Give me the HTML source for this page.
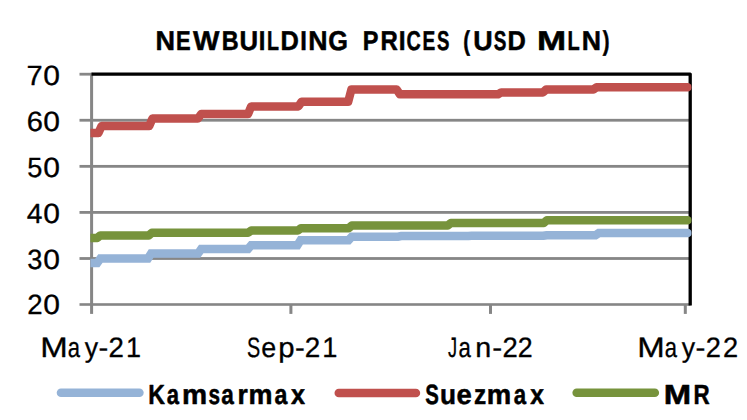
<!DOCTYPE html>
<html><head><meta charset="utf-8"><title>Newbuilding Prices</title>
<style>html,body{margin:0;padding:0;background:#fff;}body{width:747px;height:420px;position:relative;overflow:hidden;font-family:"Liberation Sans",sans-serif;}</style></head>
<body>
<svg width="747" height="420" viewBox="0 0 747 420" style="position:absolute;left:0;top:0">
<defs><clipPath id="c"><rect x="90.4" y="60" width="601.2" height="260"/></clipPath></defs>
<rect width="747" height="420" fill="#fff"/>
<rect x="79.5" y="118.85" width="610" height="2.8" fill="#868686"/>
<rect x="79.5" y="164.95" width="610" height="2.8" fill="#868686"/>
<rect x="79.5" y="211.00" width="610" height="2.8" fill="#868686"/>
<rect x="79.5" y="257.10" width="610" height="2.8" fill="#868686"/>
<rect x="79.5" y="72.8" width="13" height="2.8" fill="#868686"/>
<rect x="90.1" y="72.9" width="3" height="241" fill="#868686"/>
<rect x="79.5" y="303.2" width="611" height="2.6" fill="#868686"/>
<rect x="289.4" y="304" width="3" height="9.9" fill="#868686"/>
<rect x="489.0" y="304" width="3" height="9.9" fill="#868686"/>
<rect x="683.8" y="304" width="3" height="9.9" fill="#868686"/>
<path d="M91.5 74.05 H690.2 V305.6" fill="none" stroke="#000" stroke-width="3.3" stroke-linejoin="round"/>
<g clip-path="url(#c)" fill="none" stroke-width="8.5" stroke-linecap="round" stroke-linejoin="round">
<polyline points="86.0,263.1 97.2,263.1 100.4,258.6 147.9,258.6 151.1,253.6 198.0,253.6 201.2,249.1 248.0,249.1 251.2,245.3 297.4,245.3 300.6,240.2 348.6,240.2 351.8,236.7 398.0,236.7 401.2,236.1 468.4,236.1 471.6,235.8 543.4,235.8 546.6,235.2 595.5,235.2 598.7,233.1 687.6,233.1" stroke="#95B3D7" stroke-linejoin="miter"/>
<polyline points="86.0,133.1 98.4,133.1 101.6,126.0 149.2,126.0 152.4,118.6 197.9,118.6 201.1,114.1 248.0,114.1 251.2,106.4 298.4,106.4 301.6,101.8 348.2,101.8 351.4,89.5 396.7,89.5 399.9,94.3 498.0,94.3 501.2,92.4 543.0,92.4 546.2,89.5 593.4,89.5 596.6,87.2 687.6,87.2" stroke="#C0504D"/>
<polyline points="86.0,237.9 97.2,237.9 100.4,235.4 148.7,235.4 151.9,232.7 248.0,232.7 251.2,230.6 297.7,230.6 300.9,228.3 348.6,228.3 351.8,225.6 447.7,225.6 450.9,222.9 543.7,222.9 546.9,220.2 687.6,220.2" stroke="#77933C"/>
</g>
<g fill="none" stroke-width="8.6" stroke-linecap="round">
<line x1="61" y1="392.8" x2="139.4" y2="392.8" stroke="#95B3D7"/>
<line x1="338.8" y1="393" x2="415.9" y2="393" stroke="#C0504D"/>
<line x1="576.7" y1="392.8" x2="654.8" y2="392.8" stroke="#77933C"/>
</g>
<g font-family="Liberation Sans, sans-serif" fill="#000" style="text-rendering:geometricPrecision">
<text y="50.4" font-size="27.2" font-weight="bold" stroke="#000" stroke-width="0.5" stroke-linejoin="round"><tspan x="155.38" textLength="19.55" lengthAdjust="spacingAndGlyphs">N</tspan><tspan x="176.04" textLength="14.63" lengthAdjust="spacingAndGlyphs">E</tspan><tspan x="193.05" textLength="26.45" lengthAdjust="spacingAndGlyphs">W</tspan><tspan x="221.84" textLength="16.90" lengthAdjust="spacingAndGlyphs">B</tspan><tspan x="239.61" textLength="18.59" lengthAdjust="spacingAndGlyphs">U</tspan><tspan x="258.80" textLength="6.63" lengthAdjust="spacingAndGlyphs">I</tspan><tspan x="267.10" textLength="11.97" lengthAdjust="spacingAndGlyphs">L</tspan><tspan x="280.60" textLength="18.31" lengthAdjust="spacingAndGlyphs">D</tspan><tspan x="300.20" textLength="6.63" lengthAdjust="spacingAndGlyphs">I</tspan><tspan x="308.21" textLength="19.30" lengthAdjust="spacingAndGlyphs">N</tspan><tspan x="328.30" textLength="19.69" lengthAdjust="spacingAndGlyphs">G</tspan> <tspan x="362.83" textLength="15.69" lengthAdjust="spacingAndGlyphs">P</tspan><tspan x="380.60" textLength="17.32" lengthAdjust="spacingAndGlyphs">R</tspan><tspan x="398.86" textLength="6.83" lengthAdjust="spacingAndGlyphs">I</tspan><tspan x="406.53" textLength="14.28" lengthAdjust="spacingAndGlyphs">C</tspan><tspan x="422.43" textLength="12.73" lengthAdjust="spacingAndGlyphs">E</tspan><tspan x="436.94" textLength="12.41" lengthAdjust="spacingAndGlyphs">S</tspan> <tspan x="463.32" textLength="6.77" lengthAdjust="spacingAndGlyphs">(</tspan><tspan x="473.24" textLength="19.43" lengthAdjust="spacingAndGlyphs">U</tspan><tspan x="493.73" textLength="12.63" lengthAdjust="spacingAndGlyphs">S</tspan><tspan x="507.60" textLength="18.31" lengthAdjust="spacingAndGlyphs">D</tspan> <tspan x="537.14" textLength="29.10" lengthAdjust="spacingAndGlyphs">M</tspan><tspan x="567.57" textLength="12.21" lengthAdjust="spacingAndGlyphs">L</tspan><tspan x="581.81" textLength="19.30" lengthAdjust="spacingAndGlyphs">N</tspan><tspan x="602.76" textLength="6.77" lengthAdjust="spacingAndGlyphs">)</tspan></text>
<text y="84.8" font-size="27.8" stroke="#000" stroke-width="0.3" stroke-linejoin="round"><tspan x="26.61" textLength="16.17" lengthAdjust="spacingAndGlyphs">7</tspan><tspan x="43.34" textLength="16.69" lengthAdjust="spacingAndGlyphs">0</tspan></text>
<text y="130.8" font-size="27.8" stroke="#000" stroke-width="0.3" stroke-linejoin="round"><tspan x="26.81" textLength="16.21" lengthAdjust="spacingAndGlyphs">6</tspan><tspan x="43.34" textLength="16.69" lengthAdjust="spacingAndGlyphs">0</tspan></text>
<text y="176.6" font-size="27.8" stroke="#000" stroke-width="0.3" stroke-linejoin="round"><tspan x="27.15" textLength="15.14" lengthAdjust="spacingAndGlyphs">5</tspan><tspan x="43.34" textLength="16.69" lengthAdjust="spacingAndGlyphs">0</tspan></text>
<text y="222.6" font-size="27.8" stroke="#000" stroke-width="0.3" stroke-linejoin="round"><tspan x="26.81" textLength="15.74" lengthAdjust="spacingAndGlyphs">4</tspan><tspan x="43.34" textLength="16.69" lengthAdjust="spacingAndGlyphs">0</tspan></text>
<text y="268.8" font-size="27.8" stroke="#000" stroke-width="0.3" stroke-linejoin="round"><tspan x="27.15" textLength="15.14" lengthAdjust="spacingAndGlyphs">3</tspan><tspan x="43.34" textLength="16.69" lengthAdjust="spacingAndGlyphs">0</tspan></text>
<text y="313.8" font-size="27.8" stroke="#000" stroke-width="0.3" stroke-linejoin="round"><tspan x="27.18" textLength="15.37" lengthAdjust="spacingAndGlyphs">2</tspan><tspan x="43.34" textLength="16.69" lengthAdjust="spacingAndGlyphs">0</tspan></text>
<text y="356.7" font-size="28.0" stroke="#000" stroke-width="0.3" stroke-linejoin="round"><tspan x="40.20" textLength="27.49" lengthAdjust="spacingAndGlyphs">M</tspan><tspan x="67.67" textLength="12.24" lengthAdjust="spacingAndGlyphs">a</tspan><tspan x="84.73" textLength="13.34" lengthAdjust="spacingAndGlyphs">y</tspan><tspan x="98.64" textLength="9.76" lengthAdjust="spacingAndGlyphs">-</tspan><tspan x="108.49" textLength="15.39" lengthAdjust="spacingAndGlyphs">2</tspan><tspan x="125.90" textLength="15.03" lengthAdjust="spacingAndGlyphs">1</tspan></text>
<text y="356.7" font-size="28.0" stroke="#000" stroke-width="0.3" stroke-linejoin="round"><tspan x="246.97" textLength="13.20" lengthAdjust="spacingAndGlyphs">S</tspan><tspan x="261.35" textLength="14.95" lengthAdjust="spacingAndGlyphs">e</tspan><tspan x="278.18" textLength="16.32" lengthAdjust="spacingAndGlyphs">p</tspan><tspan x="294.94" textLength="9.77" lengthAdjust="spacingAndGlyphs">-</tspan><tspan x="304.78" textLength="15.51" lengthAdjust="spacingAndGlyphs">2</tspan><tspan x="322.18" textLength="15.15" lengthAdjust="spacingAndGlyphs">1</tspan></text>
<text y="356.7" font-size="28.0" stroke="#000" stroke-width="0.3" stroke-linejoin="round"><tspan x="448.12" textLength="9.11" lengthAdjust="spacingAndGlyphs">J</tspan><tspan x="458.56" textLength="12.35" lengthAdjust="spacingAndGlyphs">a</tspan><tspan x="475.32" textLength="16.00" lengthAdjust="spacingAndGlyphs">n</tspan><tspan x="492.32" textLength="9.90" lengthAdjust="spacingAndGlyphs">-</tspan><tspan x="502.40" textLength="15.27" lengthAdjust="spacingAndGlyphs">2</tspan><tspan x="517.63" textLength="14.90" lengthAdjust="spacingAndGlyphs">2</tspan></text>
<text y="356.7" font-size="28.0" stroke="#000" stroke-width="0.3" stroke-linejoin="round"><tspan x="637.20" textLength="27.49" lengthAdjust="spacingAndGlyphs">M</tspan><tspan x="664.67" textLength="12.24" lengthAdjust="spacingAndGlyphs">a</tspan><tspan x="681.73" textLength="13.34" lengthAdjust="spacingAndGlyphs">y</tspan><tspan x="695.62" textLength="9.90" lengthAdjust="spacingAndGlyphs">-</tspan><tspan x="705.81" textLength="15.14" lengthAdjust="spacingAndGlyphs">2</tspan><tspan x="722.91" textLength="15.14" lengthAdjust="spacingAndGlyphs">2</tspan></text>
<text y="404.2" font-size="27.8" font-weight="bold" stroke="#000" stroke-width="0.5" stroke-linejoin="round"><tspan x="148.29" textLength="16.73" lengthAdjust="spacingAndGlyphs">K</tspan><tspan x="166.76" textLength="12.26" lengthAdjust="spacingAndGlyphs">a</tspan><tspan x="182.04" textLength="25.16" lengthAdjust="spacingAndGlyphs">m</tspan><tspan x="208.50" textLength="11.56" lengthAdjust="spacingAndGlyphs">s</tspan><tspan x="221.24" textLength="12.58" lengthAdjust="spacingAndGlyphs">a</tspan><tspan x="237.46" textLength="10.31" lengthAdjust="spacingAndGlyphs">r</tspan><tspan x="248.43" textLength="23.99" lengthAdjust="spacingAndGlyphs">m</tspan><tspan x="274.52" textLength="12.89" lengthAdjust="spacingAndGlyphs">a</tspan><tspan x="291.12" textLength="14.02" lengthAdjust="spacingAndGlyphs">x</tspan></text>
<text y="404.2" font-size="27.8" font-weight="bold" stroke="#000" stroke-width="0.5" stroke-linejoin="round"><tspan x="425.31" textLength="13.61" lengthAdjust="spacingAndGlyphs">S</tspan><tspan x="440.00" textLength="16.00" lengthAdjust="spacingAndGlyphs">u</tspan><tspan x="456.54" textLength="15.26" lengthAdjust="spacingAndGlyphs">e</tspan><tspan x="473.96" textLength="12.18" lengthAdjust="spacingAndGlyphs">z</tspan><tspan x="486.79" textLength="24.46" lengthAdjust="spacingAndGlyphs">m</tspan><tspan x="513.65" textLength="12.37" lengthAdjust="spacingAndGlyphs">a</tspan><tspan x="530.13" textLength="13.71" lengthAdjust="spacingAndGlyphs">x</tspan></text>
<text y="404.2" font-size="27.8" font-weight="bold" stroke="#000" stroke-width="0.5" stroke-linejoin="round"><tspan x="663.73" textLength="27.37" lengthAdjust="spacingAndGlyphs">M</tspan><tspan x="693.54" textLength="16.17" lengthAdjust="spacingAndGlyphs">R</tspan></text>
</g>
</svg>
</body></html>
